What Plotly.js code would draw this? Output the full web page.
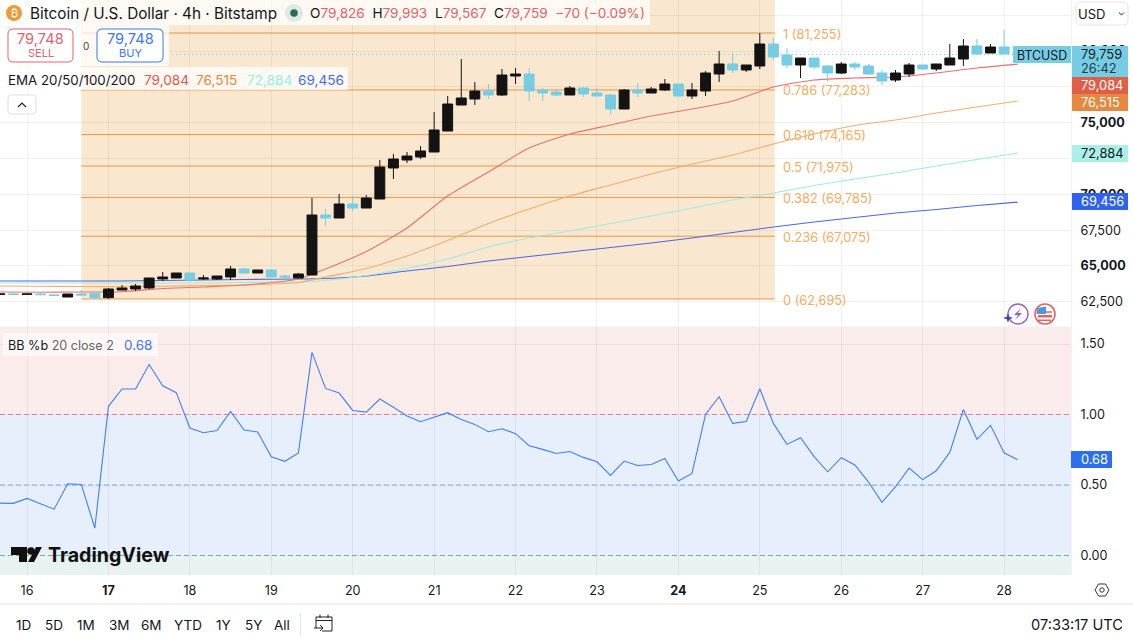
<!DOCTYPE html>
<html><head><meta charset="utf-8">
<script src="https://cdn.plot.ly/plotly-3.0.1.min.js"></script>
<style>html,body{margin:0;padding:0;background:#fff;overflow:hidden}#c{width:1133px;height:638px}</style>
</head><body><div id="c"></div>
<script>
const W=1133,H=638;
// candles (4h) — oldest first
const opens=[63021,63044,63021,63044,62974,62834,63044,63068,62788,63323,63393,63463,64090,64160,64509,64090,64090,64230,64789,64509,64719,64300,64160,64370,68557,68347,69324,69045,69673,71836,72394,72604,72953,74418,76232,76651,77209,76930,78256,78395,77279,77140,76930,77419,77070,76930,75953,77279,77070,77279,77698,76861,77210,78396,79094,78675,78954,80489,79722,79024,79512,78954,78466,79094,78954,78466,77977,78396,79024,78745,79024,79443,80350,79861,80280,79826];
const highs=[63068,63091,63091,63091,62974,63044,63323,63068,63463,63672,63742,64160,64579,64509,64509,64370,64300,64998,64858,64719,64719,64370,64509,69743,68975,70022,69882,69952,72394,72813,72953,73371,75744,76860,79442,77837,77698,78744,78814,78814,77419,77349,77558,77488,77419,77000,77349,77767,77488,78047,77698,77768,78605,80001,79861,79024,81257,80908,80210,79512,79512,79024,79233,79233,79094,78675,78675,79163,79024,79094,80489,80838,80838,80489,81466,79993];
const lows=[63000,62951,63021,62951,62951,62834,62974,62672,62695,63323,63253,63393,63951,64160,63951,64021,64021,64021,64509,64509,64230,64090,64160,64370,67789,68347,68836,69045,69673,71068,72185,72464,72953,74418,76232,76232,76651,76860,77698,76511,76511,76860,76930,76790,76860,75604,75953,76790,77070,77209,76861,76651,76861,77838,78466,78536,78745,79373,78814,78117,78745,77838,78396,78675,78326,77628,77838,78187,78675,78605,79024,78954,79722,79861,79792,79567];
const closes=[63044,63021,63044,63000,62951,63044,62974,62788,63393,63463,63602,64160,64230,64509,64021,64160,64300,64789,64509,64719,64230,64230,64439,68557,68347,69324,69045,69743,71906,72464,72674,73022,74488,76302,76721,77209,76930,78326,78395,77209,77070,76930,77419,77000,76860,75953,77279,77070,77349,77698,76861,77279,78466,79094,78675,79024,80489,79582,79024,79512,78884,78466,79094,78884,78396,77907,78466,79024,78745,79094,79512,80350,79792,80280,79792,79759];
// EMA samples, at these candle numbers
const emaIdx=[0,3,6,9,12,15,18,22,24,27,30,33,36,39,42,45,48,51,54,57,60,63,66,69,72,75];
const ema20=[63183,63163,63183,63204,63428,63532,63672,64091,64788,66010,67649,69882,71557,73232,74209,74837,75465,75953,76511,77488,77977,78116,78186,78465,78814,79084];
const ema50=[63602,63581,63567,63553,63581,63637,63672,63846,64230,64823,65696,66777,67963,68975,69882,70650,71417,72115,72743,73511,74209,74802,75186,75674,76093,76515];
const ema100=[63811,63811,63811,63811,63811,63811,63846,63881,63986,64335,64823,65486,66324,66952,67440,67963,68487,69045,69603,70092,70615,71069,71487,71976,72429,72884];
const ema200=[63951,63951,63951,63951,63986,64021,64056,64091,64125,64300,64649,64963,65347,65661,65975,66289,66603,66952,67335,67719,68068,68382,68696,68940,69219,69456];
// BB %b, per candle
const bbPct=[0.372,0.370,0.405,0.367,0.329,0.509,0.504,0.195,1.058,1.181,1.181,1.355,1.204,1.155,0.904,0.871,0.887,1.022,0.890,0.876,0.701,0.668,0.727,1.441,1.185,1.152,1.029,1.017,1.110,1.051,0.989,0.949,0.980,1.013,0.965,0.930,0.878,0.899,0.864,0.779,0.753,0.724,0.738,0.696,0.665,0.568,0.670,0.639,0.646,0.689,0.528,0.582,1.001,1.126,0.937,0.951,1.183,0.937,0.788,0.835,0.701,0.594,0.694,0.642,0.523,0.377,0.488,0.620,0.538,0.601,0.731,1.036,0.824,0.923,0.729,0.680];
// Fibonacci levels
const fibRatios=['1','0.786','0.618','0.5','0.382','0.236','0'];
const fibPrices=[81255,77283,74165,71975,69785,67075,62695];
// axes
const dayIdx=[2,8,14,20,26,32,38,44,50,56,62,68,74];
const dayLabels=['16','<b>17</b>','18','19','20','21','22','23','<b>24</b>','25','26','27','28'];
const priceTicks=[62500,65000,67500,70000,72500,75000,77500,80000,82500];
const priceLabels=['62,500','<b>65,000</b>','67,500','<b>70,000</b>','','<b>75,000</b>','','<b>80,000</b>',''];
const bbTicks=[0,0.5,1,1.5];
const bbLabels=['0.00','0.50','1.00','1.50'];
const ranges=['1D','5D','1M','3M','6M','YTD','1Y','5Y','All'];
const rangeX=[23,54,86,119,151,188,223,253,282];

const xs=closes.map((_,i)=>i);
const yRange=[60741,83560];
const FONT='Inter, "Liberation Sans", sans-serif';
const UP='#131313',DOWN='#76cde3';
const fx=x=>x/W, fy=y=>1-y/H;
const P=(x,y)=>fx(x).toFixed(5)+' '+fy(y).toFixed(5);
const emaLine=c=>({color:c,width:1.1,shape:'spline',smoothing:0.6});

const traces=[
 {type:'scatter',mode:'lines',x:emaIdx,y:ema200,xaxis:'x',yaxis:'y',line:emaLine('#4d66e6'),hoverinfo:'skip'},
 {type:'scatter',mode:'lines',x:emaIdx,y:ema100,xaxis:'x',yaxis:'y',line:emaLine('#9debe3'),hoverinfo:'skip'},
 {type:'scatter',mode:'lines',x:emaIdx,y:ema50,xaxis:'x',yaxis:'y',line:emaLine('#f1ae6c'),hoverinfo:'skip'},
 {type:'scatter',mode:'lines',x:emaIdx,y:ema20,xaxis:'x',yaxis:'y',line:emaLine('#e4736e'),hoverinfo:'skip'},
 {type:'candlestick',x:xs,open:opens,high:highs,low:lows,close:closes,xaxis:'x',yaxis:'y3',whiskerwidth:0,
  increasing:{line:{color:UP,width:1},fillcolor:UP},decreasing:{line:{color:DOWN,width:1},fillcolor:DOWN},hoverinfo:'skip'},
 {type:'scatter',mode:'lines',x:xs,y:bbPct,xaxis:'x',yaxis:'y2',line:{color:'#3f80f3',width:1.1},hoverinfo:'skip'}
];

const shapes=[];
const rect=(x0,y0,x1,y1,fill,extra)=>shapes.push(Object.assign({type:'rect',xref:'paper',yref:'paper',x0:fx(x0),x1:fx(x1),y0:fy(y0),y1:fy(y1),fillcolor:fill,line:{width:0},layer:'above'},extra||{}));
const rr=(x0,y0,x1,y1,r,fill,stroke,lw)=>shapes.push({type:'path',xref:'paper',yref:'paper',layer:'above',fillcolor:fill,line:{color:stroke,width:lw||1},
 path:`M ${P(x0+r,y0)} L ${P(x1-r,y0)} Q ${P(x1,y0)} ${P(x1,y0+r)} L ${P(x1,y1-r)} Q ${P(x1,y1)} ${P(x1-r,y1)} L ${P(x0+r,y1)} Q ${P(x0,y1)} ${P(x0,y1-r)} L ${P(x0,y0+r)} Q ${P(x0,y0)} ${P(x0+r,y0)} Z`});
const circ=(cx,cy,r,fill,stroke,lw)=>shapes.push({type:'circle',xref:'paper',yref:'paper',layer:'above',x0:fx(cx-r),x1:fx(cx+r),y0:fy(cy+r),y1:fy(cy-r),fillcolor:fill,line:stroke?{color:stroke,width:lw||1}:{width:0}});
const poly=(pts,fill,stroke,lw,open)=>shapes.push({type:'path',xref:'paper',yref:'paper',layer:'above',fillcolor:fill,line:stroke?{color:stroke,width:lw||1}:{width:0},
 path:'M '+pts.map(p=>P(p[0],p[1])).join(' L ')+(open?'':' Z')});

// fib block
shapes.push({type:'rect',xref:'x',yref:'y',x0:6,x1:57.1,y0:fibPrices[6],y1:yRange[1],fillcolor:'#f9e8cf',line:{width:0},layer:'below'});
fibPrices.forEach(p=>shapes.push({type:'line',xref:'x',yref:'y',x0:6,x1:57.1,y0:p,y1:p,line:{color:'#ec9640',width:1},layer:'below'}));
// BB zones
shapes.push({type:'rect',xref:'paper',yref:'y2',x0:0,x1:fx(1071),y0:1,y1:1.6206,fillcolor:'#fbecec',line:{width:0},layer:'below'});
shapes.push({type:'rect',xref:'paper',yref:'y2',x0:0,x1:fx(1071),y0:0,y1:1,fillcolor:'#e7effc',line:{width:0},layer:'below'});
shapes.push({type:'rect',xref:'paper',yref:'y2',x0:0,x1:fx(1071),y0:-0.138,y1:0,fillcolor:'#e8f3f1',line:{width:0},layer:'below'});
[[1,'#e88a92'],[0.5,'#7ba6f6'],[0,'#7db5a8']].forEach(b=>shapes.push({type:'line',xref:'paper',yref:'y2',x0:0,x1:fx(1071),y0:b[0],y1:b[0],line:{color:b[1],width:1,dash:'5px,3px'},layer:'below'}));
// last price dotted
shapes.push({type:'line',xref:'x',yref:'y3',x0:0,x1:76,y0:closes[75],y1:closes[75],line:{color:'#76cde3',width:1,dash:'1px,3px'},layer:'below'});
// frame
rect(0,603.5,W,604.5,'#e6e6e6');
rect(0,326.5,1071,327.5,'#f0f0f0');
rect(1071,0,1072,575,'#f2f2f2');
// legend backings
rect(0,0,650,25,'rgba(255,255,255,0.72)');
rect(0,25,169,66,'rgba(255,255,255,0.72)');
rect(0,67,348,90,'rgba(255,255,255,0.72)');
rect(3,333,158,356,'rgba(255,255,255,0.6)');
// btc logo & dot
circ(14,13,8,'#ee9a3a');
circ(294,13,9,'#dfe9e3'); circ(294,13,3.8,'#2d6a55');
// sell/buy
rr(8,29,73,62,5,'#ffffff','#e2636c',1);
rr(97,29,163,62,5,'#ffffff','#3a78f2',1);
// collapse button
rr(8,95,36,114,3,'#ffffff','#e0e0e0',1);
poly([[18,107],[22,103],[26,107]],'rgba(0,0,0,0)','#222',1.2,true);
// usd button
rr(1076,2,1128,25,5,'#ffffff','#e6e6e6',1);
poly([[1119,12.5],[1121.5,15],[1124,12.5]],'rgba(0,0,0,0)','#222',1,true);
// price tags
rect(1013,46,1071,63,DOWN);
rect(1072,46,1128,77,DOWN);
rect(1072,77,1128,94,'#df5e45');
rect(1072,94,1128,111,'#e58840');
rect(1072,145,1128,162,'#a9f0e8');
rect(1072,193,1128,210,'#2f62ee');
rect(1071,451,1112,468,'#2b6ff0');
// settings icon
poly([[1095,590],[1098.5,584],[1105.5,584],[1109,590],[1105.5,596],[1098.5,596]],'#ffffff','#333',1);
circ(1102,590,2.2,'#ffffff','#333',1);
// bottom separator & date icon
rect(300,613,301,635,'#e6e6e6');
poly([[316,628],[316,617],[332,617],[332,631],[322,631]],'rgba(0,0,0,0)','#222',1,true);
poly([[316,620.5],[332,620.5]],'rgba(0,0,0,0)','#222',1,true);
poly([[320,614.5],[320,618]],'rgba(0,0,0,0)','#222',1,true);
poly([[328,614.5],[328,618]],'rgba(0,0,0,0)','#222',1,true);
poly([[314,628],[323,628]],'rgba(0,0,0,0)','#222',1,true);
poly([[320,625],[323,628],[320,631]],'rgba(0,0,0,0)','#222',1,true);
// tradingview mark
poly([[11,547],[27,547],[27,562],[19,562],[19,555],[11,555]],'#111');
circ(31,551,3.8,'#111');
poly([[36,547],[42,547],[34,562],[28,562]],'#111');
// bolt icon
circ(1018,314,10,'rgba(255,255,255,0.9)','#9b5fc4',1.4);
poly([[1021,308],[1014,315],[1018,315],[1015,320],[1022,313],[1018,313]],'#9b5fc4');
poly([[1008,313],[1009.2,316.8],[1013,318],[1009.2,319.2],[1008,323],[1006.8,319.2],[1003,318],[1006.8,316.8]],'#2f4fb0');
// flag icon
circ(1045,314,10,'#ffffff','#e5635f',1.6);
rect(1038,311,1052,313,'#e98a85');rect(1038,315,1052,317.5,'#e5635f');rect(1038,319.5,1051,321,'#e5635f');
poly([[1037.5,308],[1046,306.5],[1046,314],[1036.5,314]],'#4a96e6');

const anns=[];
const t=(x,y,text,o)=>{o=o||{};anns.push({xref:'paper',yref:'paper',x:fx(x),y:fy(y),text,showarrow:false,xanchor:o.a||'left',yanchor:'middle',borderpad:0,borderwidth:0,
  font:{family:FONT,size:o.s||13,color:o.c||'#131722'}});};
const sp=(c,s)=>`<span style="color:${c}">${s}</span>`;
const RED='#e0636a';
t(14,13,'₿',{a:'center',s:11,c:'#ffffff'});
t(30,13,'Bitcoin / U.S. Dollar · 4h · Bitstamp',{s:15.3});
t(310,13,'O'+sp(RED,'79,826')+'  H'+sp(RED,'79,993')+'  L'+sp(RED,'79,567')+'  C'+sp(RED,'79,759')+'  '+sp(RED,'−70 (−0.09%)'),{s:13.6});
t(40.5,39,'79,748',{a:'center',s:14.6,c:RED});
t(40.5,53,'SELL',{a:'center',s:11,c:RED});
t(130,39,'79,748',{a:'center',s:14.6,c:'#3a78f2'});
t(130,53,'BUY',{a:'center',s:11,c:'#3a78f2'});
t(86,46,'0',{a:'center',s:10,c:'#444'});
t(8,79.5,'EMA 20/50/100/200',{s:13.3});
t(144,79.5,'79,084',{s:13.6,c:'#e0584a'});
t(196,79.5,'76,515',{s:13.6,c:'#e8873f'});
t(247,79.5,'72,884',{s:13.6,c:'#8ff0e8'});
t(298,79.5,'69,456',{s:13.6,c:'#3d6df0'});
t(8,345,'BB %b '+sp('#666','20 close 2'),{s:12.6});
t(124,345,'0.68',{s:13.5,c:'#3d78f0'});
t(1091.5,13.5,'USD',{a:'center',s:13});
t(1041.5,55,'BTCUSD',{a:'center',s:12.4});
t(1081,54,'79,759',{s:12.8});
t(1081,68,'26:42',{s:12.8,c:'#1f3a44'});
t(1081,85.5,'79,084',{s:12.8,c:'#ffffff'});
t(1081,102.5,'76,515',{s:12.8,c:'#ffffff'});
t(1081,153.5,'72,884',{s:12.8});
t(1081,201.5,'69,456',{s:12.8,c:'#ffffff'});
t(1081,459.5,'0.68',{s:12.8,c:'#ffffff'});
t(48,555,'<b>TradingView</b>',{s:19.6,c:'#111'});
ranges.forEach((r,i)=>t(rangeX[i],625,r,{a:'center',s:13.5}));
t(1123,624.5,'07:33:17 UTC',{a:'right',s:14.6});
fibRatios.forEach((r,i)=>{
  const label=r+' ('+fibPrices[i].toLocaleString('en-US')+')';
  anns.push({xref:'x',yref:'y',x:57.55,y:fibPrices[i],yshift:-1,text:label,showarrow:false,xanchor:'left',yanchor:'middle',font:{family:FONT,size:12.8,color:'#f3ad5e'}});
});

const tickFont={family:FONT,size:12.6,color:'#131722'};
const GRID='rgba(60,60,60,0.07)';
const layout={
 width:W,height:H,margin:{l:0,r:0,t:0,b:0},paper_bgcolor:'#fff',plot_bgcolor:'#fff',showlegend:false,hovermode:false,dragmode:false,font:{family:FONT},
 xaxis:{domain:[0,1071/W],range:[0.01,78.93],anchor:'y2',tickmode:'array',tickvals:dayIdx,ticktext:dayLabels,tickfont:tickFont,ticks:'outside',ticklen:4,tickcolor:'rgba(0,0,0,0)',showgrid:true,gridcolor:GRID,gridwidth:1,zeroline:false,showline:false,rangeslider:{visible:false},fixedrange:true},
 yaxis:{domain:[1-327/H,1],range:yRange,side:'right',anchor:'x',tickmode:'array',tickvals:priceTicks,ticktext:priceLabels,tickfont:tickFont,ticks:'outside',ticklen:6,tickcolor:'rgba(0,0,0,0)',showgrid:true,gridcolor:GRID,zeroline:false,showline:false,fixedrange:true},
 yaxis3:{domain:[1-327/H,1],range:yRange,overlaying:'y',side:'right',anchor:'x',showticklabels:false,ticks:'',showgrid:false,zeroline:false,showline:false,fixedrange:true},
 yaxis2:{domain:[1-575/H,1-327/H],range:[-0.138,1.6206],side:'right',anchor:'x',tickmode:'array',tickvals:bbTicks,ticktext:bbLabels,tickfont:tickFont,ticks:'outside',ticklen:6,tickcolor:'rgba(0,0,0,0)',showgrid:true,gridcolor:GRID,zeroline:false,showline:false,fixedrange:true},
 boxgap:0.27,boxgroupgap:0,
 shapes,annotations:anns
};
Plotly.newPlot('c',traces,layout,{staticPlot:true,displayModeBar:false});
</script></body></html>
